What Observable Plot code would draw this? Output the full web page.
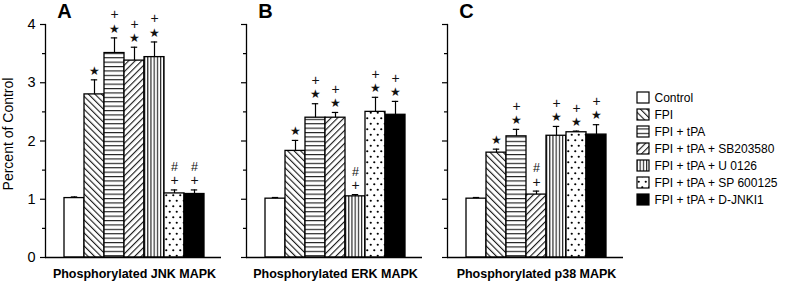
<!DOCTYPE html>
<html>
<head>
<meta charset="utf-8">
<script src="https://cdn.jsdelivr.net/npm/d3@7"></script>
<script src="https://cdn.jsdelivr.net/npm/@observablehq/plot@0.6"></script>
<style>
  html, body { margin: 0; padding: 0; background: white; }
  #chart { position: relative; width: 800px; height: 283px; overflow: hidden; font-family: "Liberation Sans", Arial, sans-serif; }
</style>
</head>
<body>
<svg width="0" height="0" style="position:absolute">
  <defs>
    <pattern id="p-bs" patternUnits="userSpaceOnUse" width="4.6" height="10" patternTransform="rotate(-45)">
      <rect width="4.6" height="10" fill="white"/>
      <line x1="0.6" y1="0" x2="0.6" y2="10" stroke="black" stroke-width="1"/>
    </pattern>
    <pattern id="p-fs" patternUnits="userSpaceOnUse" width="4.6" height="10" patternTransform="rotate(45)">
      <rect width="4.6" height="10" fill="white"/>
      <line x1="0.6" y1="0" x2="0.6" y2="10" stroke="black" stroke-width="1"/>
    </pattern>
    <pattern id="p-h" patternUnits="userSpaceOnUse" width="10" height="4.4">
      <rect width="10" height="4.4" fill="white"/>
      <line x1="0" y1="0.6" x2="10" y2="0.6" stroke="black" stroke-width="1"/>
    </pattern>
    <pattern id="p-v" patternUnits="userSpaceOnUse" width="3.2" height="10">
      <rect width="3.2" height="10" fill="white"/>
      <line x1="0.6" y1="0" x2="0.6" y2="10" stroke="black" stroke-width="1"/>
    </pattern>
    <pattern id="p-dot" patternUnits="userSpaceOnUse" width="7" height="11">
      <rect width="7" height="11" fill="white"/>
      <circle cx="1.75" cy="2.75" r="1.1" fill="black"/>
      <circle cx="5.25" cy="8.25" r="1.1" fill="black"/>
    </pattern>
  </defs>
</svg>
<div id="chart"></div>
<script>
// ---- data ----
const groups = ["Control", "FPI", "FPI + tPA", "FPI + tPA + SB203580", "FPI + tPA + U 0126", "FPI + tPA + SP 600125", "FPI + tPA + D-JNKI1"];
const panelLetters = ["A", "B", "C"];
const panelTitles = ["Phosphorylated JNK MAPK", "Phosphorylated ERK MAPK", "Phosphorylated p38 MAPK"];

const jnkMean = [1.02, 2.80, 3.51, 3.38, 3.44, 1.10, 1.09];
const jnkErr  = [0.02, 0.25, 0.26, 0.23, 0.26, 0.06, 0.07];
const jnkSig  = ["", "*", "*+", "*+", "*+", "+#", "+#"];

const erkMean = [1.01, 1.83, 2.40, 2.40, 1.05, 2.50, 2.45];
const erkErr  = [0.02, 0.18, 0.24, 0.09, 0.03, 0.25, 0.23];
const erkSig  = ["", "*", "*+", "*+", "+#", "*+", "*+"];

const p38Mean = [1.01, 1.80, 2.08, 1.08, 2.09, 2.15, 2.11];
const p38Err  = [0.02, 0.06, 0.12, 0.06, 0.16, 0.02, 0.17];
const p38Sig  = ["", "*", "*+", "+#", "*+", "*+", "*+"];

const yMajorTicks = [0, 1, 2, 3, 4];
const yMinorTicks = [0.5, 1.5, 2.5, 3.5];
const yLabel = "Percent of Control";

// ---- styling ----
const fills = ["white", "url(#p-bs)", "url(#p-h)", "url(#p-fs)", "url(#p-v)", "url(#p-dot)", "black"];
const symbolText = {"*": "★", "+": "+", "#": "#"};
const symbolSize = {"*": 11.5, "+": 14, "#": 12.5};
const FONT = "'Liberation Sans', Arial, sans-serif";

const panelsData = [
  [jnkMean, jnkErr, jnkSig],
  [erkMean, erkErr, erkSig],
  [p38Mean, p38Err, p38Sig]
];

const chart = document.getElementById("chart");
const panelLeft = [0, 201, 402];

panelsData.forEach(([mean, err, sig], p) => {
  const rows = groups.map((g, i) => ({group: g, value: mean[i], top: mean[i] + err[i], fill: fills[i], sig: sig[i]}));
  const ann = [];
  rows.forEach(r => {
    [...r.sig].forEach((s, level) => ann.push({group: r.group, top: r.top, sym: s, level}));
  });
  const symMarks = [];
  for (const s of ["*", "+", "#"]) {
    for (const level of [0, 1]) {
      const sub = ann.filter(a => a.sym === s && a.level === level);
      if (sub.length) symMarks.push(Plot.text(sub, {
        x: "group", y: "top", text: () => symbolText[s],
        fontSize: symbolSize[s], fill: "#111", dy: level === 0 ? -9 : -23,
        lineAnchor: "middle"
      }));
    }
  }
  const marks = [
    Plot.barY(rows, {x: "group", y: "value", fill: "fill", stroke: "black", strokeWidth: 1.3}),
    Plot.ruleX(rows, {x: "group", y1: "value", y2: "top", stroke: "black", strokeWidth: 1.2}),
    Plot.tickY(rows, {x: "group", y: "top", stroke: "black", strokeWidth: 1.2, insetLeft: 6.8, insetRight: 6.8}),
    ...symMarks,
    Plot.ruleY([0], {stroke: "black", strokeWidth: 1.3}),
    Plot.frame({anchor: "left", stroke: "black", strokeWidth: 1.3}),
    Plot.axisY({ticks: yMajorTicks, tickSize: 5, tickPadding: 5, tickFormat: p === 0 ? (d => d) : (() => ""), fontSize: 14.5, label: null, strokeWidth: 1.2}),
    Plot.axisY({ticks: yMinorTicks, tickSize: 3, tickFormat: () => "", label: null, strokeWidth: 1.2}),
    Plot.text([panelLetters[p]], {frameAnchor: "top-left", dx: 19, dy: -13, textAnchor: "middle", lineAnchor: "middle", fontSize: 20, fontWeight: "bold"}),
    Plot.text([panelTitles[p]], {frameAnchor: "bottom", dx: 1, dy: 16, lineAnchor: "middle", fontSize: 12.5, fontWeight: "bold"})
  ];
  if (p === 0) {
    marks.push(Plot.text([yLabel], {frameAnchor: "left", rotate: -90, dx: -37, dy: -7, lineAnchor: "middle", textAnchor: "middle", fontSize: 14}));
  }
  const svg = Plot.plot({
    width: 222, height: 283,
    marginLeft: 45, marginRight: 1, marginTop: 24, marginBottom: 26,
    style: {background: "transparent", fontFamily: FONT, color: "black", overflow: "visible"},
    x: {type: "band", domain: groups, range: [62, 206], padding: 0, axis: null},
    y: {domain: [0, 4], axis: null},
    color: {type: "identity"},
    marks
  });
  svg.style.position = "absolute";
  svg.style.left = panelLeft[p] + "px";
  svg.style.top = "0px";
  chart.appendChild(svg);
});

// ---- legend ----
const legend = Plot.plot({
  width: 170, height: 140,
  margin: 0,
  style: {background: "transparent", fontFamily: FONT, color: "black", overflow: "visible"},
  x: {type: "band", domain: ["swatch"], range: [7, 19], padding: 0, axis: null},
  y: {type: "band", domain: groups, range: [4.85, 132.95], padding: 0.34, axis: null},
  color: {type: "identity"},
  marks: [
    Plot.cell(groups, {x: () => "swatch", y: d => d, fill: (d, i) => fills[i], stroke: "black", strokeWidth: 1.2}),
    Plot.text(groups, {x: () => "swatch", y: d => d, text: d => d, textAnchor: "start", dx: 11, fontSize: 12, fill: "black"})
  ]
});
legend.style.position = "absolute";
legend.style.left = "630px";
legend.style.top = "80px";
chart.appendChild(legend);
</script>
</body>
</html>
